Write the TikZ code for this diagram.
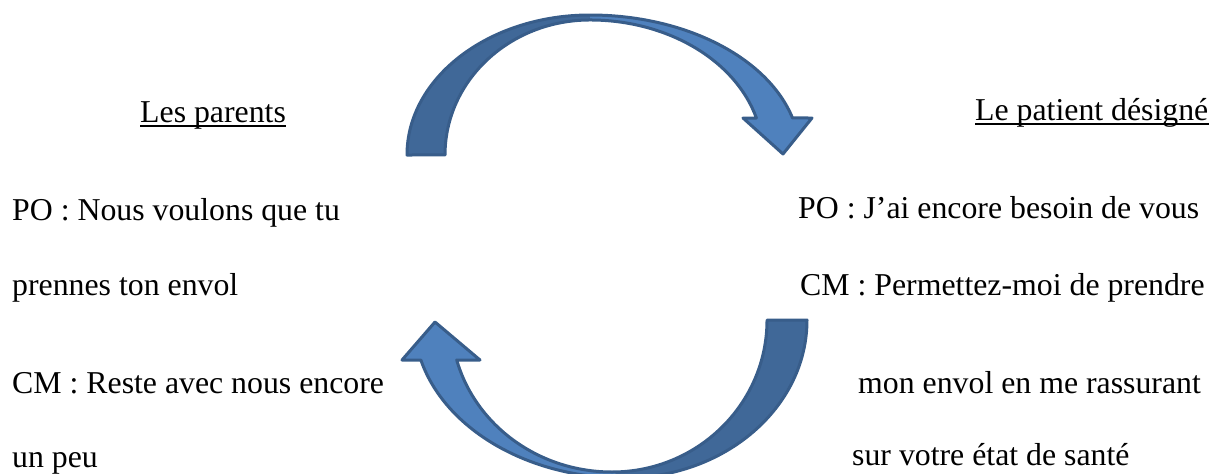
\documentclass[tikz,border=0pt]{standalone}
\usepackage{fontspec}
\setmainfont{Liberation Serif}
\definecolor{arrlight}{RGB}{79,129,189}
\definecolor{arrdark}{RGB}{64,104,152}
\definecolor{arrline}{RGB}{56,93,138}
\begin{document}
\begin{tikzpicture}[x=1pt,y=-1pt,
  txt/.style={inner sep=0pt,anchor=base west,font=\fontsize{31.8}{38}\selectfont},
  ul/.style={line width=1.8pt},
  lightpart/.style={fill=arrlight},
  darkpart/.style={fill=arrdark},
  arrowline/.style={draw=arrline,line width=3pt,line join=round}]
\useasboundingbox (0,0) rectangle (1211,474);
% ---- top arrow (curved down) ----
\path[darkpart] (407,155) arc[start angle=180,end angle=270,x radius=183,y radius=140]
  -- (590,20) arc[start angle=270,end angle=180,x radius=145,y radius=135] -- cycle;
\path[lightpart] (590,15) arc[start angle=270,end angle=344.67,x radius=210,y radius=140]
  -- (812,118) -- (783,154) -- (743,118) -- (756.4,118)
  arc[start angle=344.1,end angle=270,x radius=173,y radius=135] -- cycle;
\path[arrowline] (407,155) arc[start angle=180,end angle=270,x radius=183,y radius=140]
  arc[start angle=270,end angle=344.67,x radius=210,y radius=140]
  -- (812,118) -- (783,154) -- (743,118) -- (756.4,118)
  arc[start angle=344.1,end angle=270,x radius=173,y radius=135]
  arc[start angle=270,end angle=180,x radius=145,y radius=135] -- cycle;
% ---- bottom arrow (curved up) ----
\path[darkpart] (807,320) arc[start angle=0,end angle=90,x radius=183,y radius=158]
  -- (612,472) arc[start angle=90,end angle=0,x radius=155,y radius=152] -- cycle;
\path[lightpart] (624,478) arc[start angle=90,end angle=165.33,x radius=210,y radius=158]
  -- (402,360) -- (435,322) -- (480,360) -- (456.7,360)
  arc[start angle=164.74,end angle=90,x radius=161,y radius=152] -- cycle;
\path[arrowline] (807,320) arc[start angle=0,end angle=90,x radius=183,y radius=158]
  arc[start angle=90,end angle=165.33,x radius=210,y radius=158]
  -- (402,360) -- (435,322) -- (480,360) -- (456.7,360)
  arc[start angle=164.74,end angle=90,x radius=161,y radius=152]
  arc[start angle=90,end angle=0,x radius=155,y radius=152] -- cycle;
% ---- left texts ----
\node[txt] (lp) at (140,122) {Les parents};
\draw[ul] ([yshift=-4pt]lp.base west) -- ([yshift=-4pt]lp.base east);
\node[txt] (l1) at (12,220) {PO : Nous voulons que tu};
\node[txt] (l2) at (12,295) {prennes ton envol};
\node[txt] (l3) at (12,393) {CM : Reste avec nous encore};
\node[txt] (l4) at (12,467) {un peu};
% ---- right texts ----
\node[txt] (rp) at (975,120) {Le patient désigné};
\draw[ul] ([yshift=-4pt]rp.base west) -- ([yshift=-4pt]rp.base east);
\node[txt] (r1) at (798,218) {PO : J’ai encore besoin de vous};
\node[txt] (r2) at (800,295) {CM : Permettez-moi de prendre};
\node[txt] (r3) at (858,393) {mon envol en me rassurant};
\node[txt] (r4) at (852,465) {sur votre état de santé};
\end{tikzpicture}
\end{document}
